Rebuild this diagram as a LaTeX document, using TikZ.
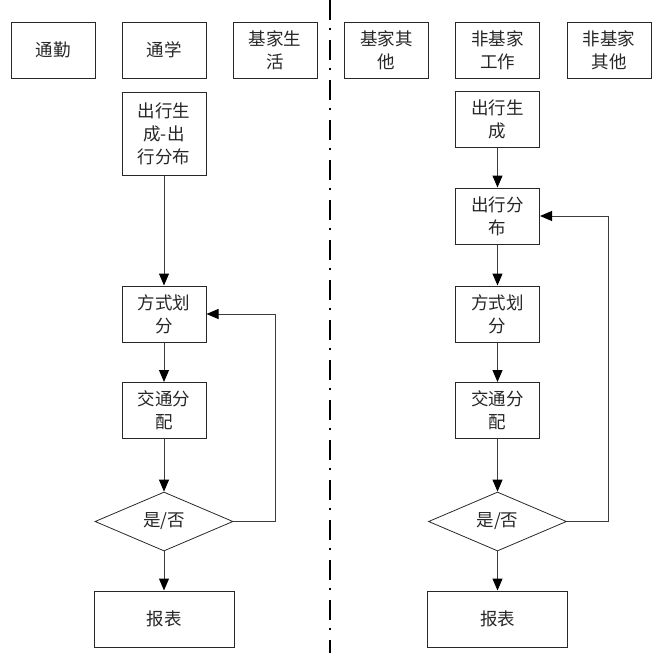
\documentclass[tikz,border=0pt]{standalone}
\usepackage{fontspec}
\usepackage{tikz}
\usetikzlibrary{shapes.geometric, arrows.meta, positioning}
\newfontfamily\cjk{Noto Sans CJK SC}
\definecolor{linecolor}{RGB}{60, 60, 60}
\definecolor{boxline}{RGB}{40, 40, 40}

\begin{document}
\begin{tikzpicture}[
    x=1pt, y=-1pt,
    every node/.style={font=\cjk\fontsize{17.5}{23}\selectfont, text=black!85},
    purpose/.style={draw=boxline, line width=1pt, minimum width=84pt, minimum height=56pt, align=center, inner sep=1pt},
    stage/.style={draw=boxline, line width=1pt, minimum width=84pt, minimum height=56pt, align=center, inner sep=1pt},
    check/.style={draw=boxline, line width=0.8pt, diamond, minimum width=138pt, minimum height=55pt, inner sep=0pt},
    report/.style={draw=boxline, line width=1pt, minimum width=140pt, minimum height=56pt},
    arrow/.style={-{Triangle[length=12pt,width=10pt,color=black]}, draw=linecolor, line width=1pt},
    loop/.style={-{Triangle[length=12pt,width=10pt,color=black]}, draw=linecolor, line width=1pt}
]
\useasboundingbox (0,0) rectangle (660,653);

% Trip purposes
\node[purpose] (commute) at (53, 50) {通勤};
\node[purpose] (school) at (164, 50) {通学};
\node[purpose] (hbliving) at (275, 50) {基家生\\活};
\node[purpose] (hbother) at (386.5, 50) {基家其\\他};
\node[purpose] (nhbwork) at (497.5, 50) {非基家\\工作};
\node[purpose] (nhbother) at (609, 50) {非基家\\其他};

% Divider
\coordinate (divtop) at (330, 0);
\coordinate (divbot) at (330, 653);
\draw[black, line width=2.5pt, dash pattern=on 20pt off 8pt on 2pt off 10pt] (divtop) -- (divbot);

% Left model
\node[stage, minimum height=83pt] (lgen) at (164, 133.5) {出行生\\成-出\\行分布};
\node[stage] (lmode) at (164, 314) {方式划\\分};
\node[stage] (lassign) at (164, 410.5) {交通分\\配};
\node[check] (lcheck) at (164, 521.5) {是/否};
\node[report] (lreport) at (164, 619) {报表};

% Right model
\node[stage] (rgen) at (497.5, 119.5) {出行生\\成};
\node[stage] (rdist) at (497.5, 216) {出行分\\布};
\node[stage] (rmode) at (497.5, 314) {方式划\\分};
\node[stage] (rassign) at (497.5, 410.5) {交通分\\配};
\node[check] (rcheck) at (497.5, 521.5) {是/否};
\node[report] (rreport) at (497.5, 619) {报表};

% Flow
\draw[arrow] (lgen) -- (lmode);
\draw[arrow] (lmode) -- (lassign);
\draw[arrow] (lassign) -- (lcheck);
\draw[arrow] (lcheck) -- (lreport);
\draw[loop] (lcheck.east) -- ++(42,0) |- (lmode.east);

\draw[arrow] (rgen) -- (rdist);
\draw[arrow] (rdist) -- (rmode);
\draw[arrow] (rmode) -- (rassign);
\draw[arrow] (rassign) -- (rcheck);
\draw[arrow] (rcheck) -- (rreport);
\draw[loop] (rcheck.east) -- ++(42,0) |- (rdist.east);

\end{tikzpicture}
\end{document}
